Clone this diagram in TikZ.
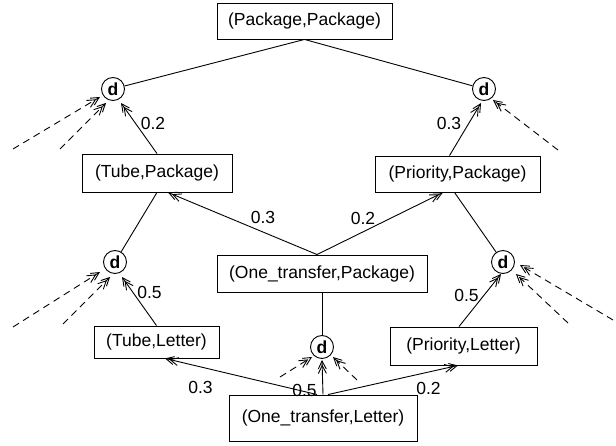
\documentclass[tikz,border=0pt]{standalone}
\usepackage{fontspec}
\setmainfont{Liberation Sans}
\usetikzlibrary{arrows.meta,calc}
\tikzset{
  box/.style={draw,line width=0.9pt,inner xsep=10pt,inner ysep=0pt,font=\fontsize{17.5}{20}\selectfont},
  dnode/.style={draw,circle,line width=0.9pt,minimum size=23pt,inner sep=0pt,font=\fontsize{17.5}{20}\selectfont\bfseries},
  lab/.style={inner sep=0pt,font=\fontsize{17.5}{20}\selectfont},
  edge/.style={line width=0.9pt},
  arr/.style={line width=0.9pt,-{Straight Barb[length=8pt,width=8pt,sep=-5pt]Straight Barb[length=8pt,width=8pt]}},
  darr/.style={arr,dash pattern=on 7pt off 5pt}
}
\begin{document}
\begin{tikzpicture}[x=1pt,y=-1pt]
\useasboundingbox (0,0) rectangle (616,446);
% boxes
\node[box,minimum width=175pt,minimum height=36pt] (pp)  at (304.5,21)  {(Package,Package)};
\node[box,minimum width=150pt,minimum height=38pt] (tp)  at (157,173)   {(Tube,Package)};
\node[box,minimum width=165pt,minimum height=36pt] (prp) at (457.5,174) {(Priority,Package)};
\node[box,minimum width=210pt,minimum height=37pt] (otp) at (322,273.5) {(One\_transfer,Package)};
\node[box,minimum width=125pt,minimum height=32pt] (tl)  at (156.5,342) {(Tube,Letter)};
\node[box,minimum width=147pt,minimum height=38pt] (prl) at (463.5,346) {(Priority,Letter)};
\node[box,minimum width=188pt,minimum height=46pt] (otl) at (323,418)   {(One\_transfer,Letter)};
% d nodes
\node[dnode] (d1) at (113,89)  {d};
\node[dnode] (d2) at (484,89)  {d};
\node[dnode] (d3) at (115,262) {d};
\node[dnode] (d4) at (503,262) {d};
\node[dnode] (d5) at (322,347) {d};
% free ends of dashed arrows
\coordinate (f1a) at (13,149);
\coordinate (f1b) at (60,149);
\coordinate (f2)  at (558,150);
\coordinate (f3a) at (13,327);
\coordinate (f3b) at (63,324);
\coordinate (f4a) at (613,320);
\coordinate (f4b) at (568,323);
\coordinate (f5a) at (280,377);
\coordinate (f5b) at (357,380);
% plain lines
\draw[edge] (pp.south) -- (d1);
\draw[edge] (pp.south) -- (d2);
\draw[edge] (tp.south) -- (d3);
\draw[edge] ($(prp.south)+(-3,0)$) -- (d4);
\draw[edge] (otp.south) -- (d5);
% weighted arrows
\draw[arr] (tp.north) -- ($(d1)+(8,14)$);
\draw[arr] ($(prp.north)+(-8,0)$) -- ($(d2)+(-3,14)$);
\draw[arr] (tl.north) -- ($(d3)+(7,15)$);
\draw[arr] ($(prl.north)+(-4.5,0)$) -- ($(d4)+(-2,12)$);
\draw[arr] (otl.north) -- ($(d5)+(0,13)$);
\draw[arr] ($(otp.north)+(-5,0)$) -- ($(tp.south)+(11,0)$);
\draw[arr] ($(otp.north)+(-5,0)$) -- ($(prp.south)+(-14.5,0)$);
\draw[arr] ($(otl.north)+(-6,0)$) -- ($(tl.south)+(8.5,0)$);
\draw[arr] ($(otl.north)+(5,0)$) -- ($(prl.south)+(-5.5,0)$);
% dashed arrows
\draw[darr] (f1a) -- ($(d1)+(-13,8)$);
\draw[darr] (f1b) -- ($(d1)+(-7,14)$);
\draw[darr] (f2)  -- ($(d2)+(9,11)$);
\draw[darr] (f3a) -- ($(d3)+(-15,10)$);
\draw[darr] (f3b) -- ($(d3)+(-5,15)$);
\draw[darr] (f4a) -- ($(d4)+(17,3)$);
\draw[darr] (f4b) -- ($(d4)+(13,12)$);
\draw[darr] (f5a) -- ($(d5)+(-10,10)$);
\draw[darr] (f5b) -- ($(d5)+(11,10)$);
% labels
\node[lab] (l1) at (153,123) {0.2};
\node[lab] (l2) at (449,123) {0.3};
\node[lab] (l3) at (263,217) {0.3};
\node[lab] (l4) at (363,218) {0.2};
\node[lab] (l5) at (149.5,292) {0.5};
\node[lab] (l6) at (466.5,295) {0.5};
\node[lab] (l7) at (200.5,387) {0.3};
\node[lab] (l8) at (304.5,390) {0.5};
\node[lab] (l9) at (428.5,388.5) {0.2};
\end{tikzpicture}
\end{document}
